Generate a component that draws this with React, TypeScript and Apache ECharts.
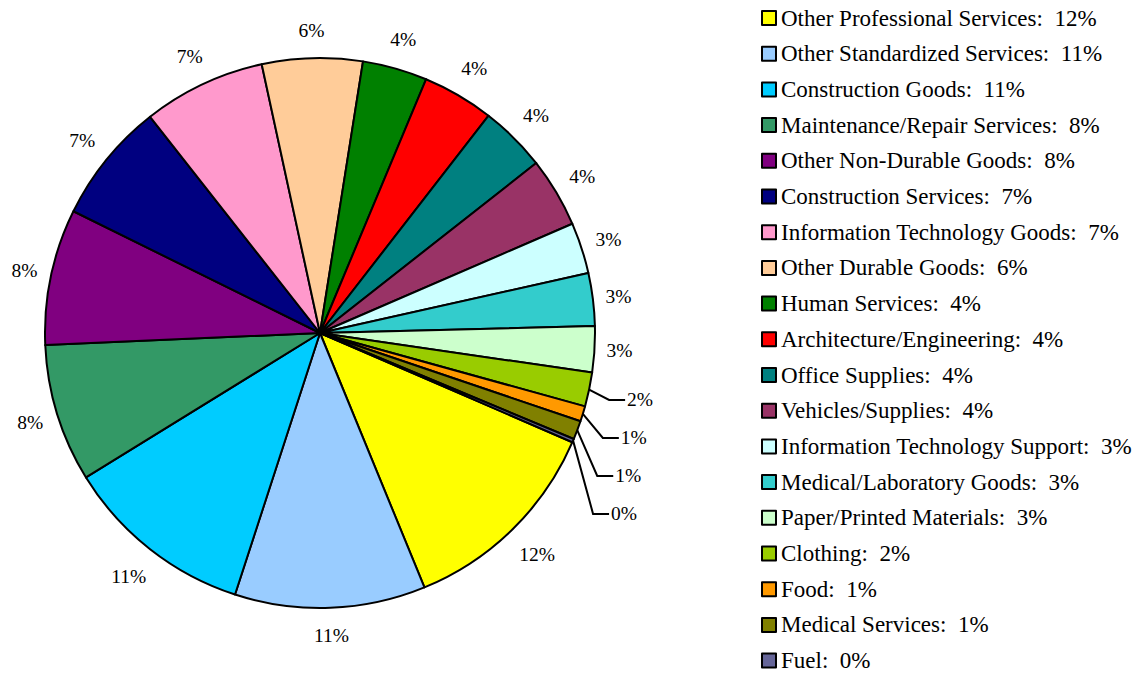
import React, { useEffect, useRef } from 'react';
import * as echarts from 'echarts';

const categories = [
  'Other Professional Services',
  'Other Standardized Services',
  'Construction Goods',
  'Maintenance/Repair Services',
  'Other Non-Durable Goods',
  'Construction Services',
  'Information Technology Goods',
  'Other Durable Goods',
  'Human Services',
  'Architecture/Engineering',
  'Office Supplies',
  'Vehicles/Supplies',
  'Information Technology Support',
  'Medical/Laboratory Goods',
  'Paper/Printed Materials',
  'Clothing',
  'Food',
  'Medical Services',
  'Fuel',
];

const shares = [12.3, 11.2, 11.2, 8.1, 8.0, 7.1, 7.2, 5.9, 3.8, 4.2, 3.9, 4.1, 3.0, 3.1, 2.7, 2.0, 0.9, 1.1, 0.2];

const colors = [
  '#FFFF00', '#99CCFF', '#00CCFF', '#339966', '#800080', '#000080', '#FF99CC', '#FFCC99', '#008000',
  '#FF0000', '#008080', '#993366', '#CCFFFF', '#33CCCC', '#CCFFCC', '#99CC00', '#FF9900', '#808000', '#666699',
];

const calloutCategories = ['Clothing', 'Food', 'Medical Services', 'Fuel'];

const FONT = '"Liberation Serif", "Times New Roman", serif';
const PIE_CENTER = [320, 333];
const LABEL_GAP = 11;
const LABEL_EXTRA_V = 6;
const CALLOUT_RUN = 20;
const CALLOUT_TAIL = 16;

export default function App() {
  const ref = useRef<HTMLDivElement>(null);

  useEffect(() => {
    if (!ref.current) return;
    const chart = echarts.init(ref.current, undefined, { renderer: 'svg' });
    const total = shares.reduce((a, b) => a + b, 0);
    const pct = (v: number) => Math.round((v / total) * 100);

    const data = categories.map((name, i) => {
      const item: any = { name, value: shares[i], itemStyle: { color: colors[i] } };
      if (calloutCategories.includes(name)) {
        item.label = { padding: [8, 0, 8, 0], distanceToLabelLine: 2 };
        item.labelLine = {
          show: true,
          length: 50,
          length2: CALLOUT_TAIL,
          lineStyle: { color: '#000', width: 2, opacity: 1 },
        };
      }
      return item;
    });

    chart.setOption({
      animation: false,
      backgroundColor: '#fff',
      legend: {
        orient: 'vertical',
        left: 761,
        top: 6.5,
        padding: 0,
        itemGap: 12.7,
        itemWidth: 14,
        itemHeight: 14,
        icon: 'rect',
        selectedMode: false,
        itemStyle: { borderColor: '#000', borderWidth: 2 },
        textStyle: { fontFamily: FONT, fontSize: 23, lineHeight: 23, color: '#000' },
        formatter: (name: string) => {
          const i = categories.indexOf(name);
          return name + ':\u00a0\u00a0' + pct(shares[i]) + '%';
        },
        data: categories,
      },
      series: [
        {
          type: 'pie',
          center: PIE_CENTER,
          radius: 275,
          startAngle: -23.4,
          clockwise: true,
          avoidLabelOverlap: true,
          itemStyle: { borderColor: '#000', borderWidth: 2 },
          emphasis: { disabled: true },
          label: {
            show: true,
            position: 'outside',
            fontFamily: FONT,
            fontSize: 19.5,
            lineHeight: 20,
            color: '#000',
            distanceToLabelLine: 0,
            formatter: (p: any) => pct(p.value) + '%',
          },
          labelLine: {
            show: true,
            length: 10,
            length2: 0,
            lineStyle: { color: '#000', width: 0, opacity: 0 },
          },
          labelLayout: (params: any) => {
            const name = categories[params.dataIndex];
            const pts = params.labelLinePoints;
            if (!pts || pts.length < 2) return {};
            const p0 = pts[0];
            const rect = params.labelRect;
            if (calloutCategories.includes(name)) {
              const y = rect.y + rect.height / 2;
              const x1 = p0[0] + CALLOUT_RUN;
              const x2 = x1 + CALLOUT_TAIL;
              return {
                x: x2 + 2,
                y,
                align: 'left',
                verticalAlign: 'middle',
                labelLinePoints: [[p0[0], p0[1]], [x1, y], [x2, y]],
              };
            }
            let dx = p0[0] - PIE_CENTER[0];
            let dy = p0[1] - PIE_CENTER[1];
            const len = Math.hypot(dx, dy) || 1;
            dx /= len;
            dy /= len;
            const d =
              LABEL_GAP +
              (Math.abs(dx) * rect.width) / 2 +
              Math.abs(dy) * (rect.height / 2 + LABEL_EXTRA_V);
            return { x: p0[0] + dx * d, y: p0[1] + dy * d, align: 'center', verticalAlign: 'middle' };
          },
          data,
        },
      ],
    });

    return () => chart.dispose();
  }, []);

  return (
    <div
      ref={ref}
      style={{ position: 'absolute', left: 0, top: 0, width: 1141, height: 673 }}
    />
  );
}
